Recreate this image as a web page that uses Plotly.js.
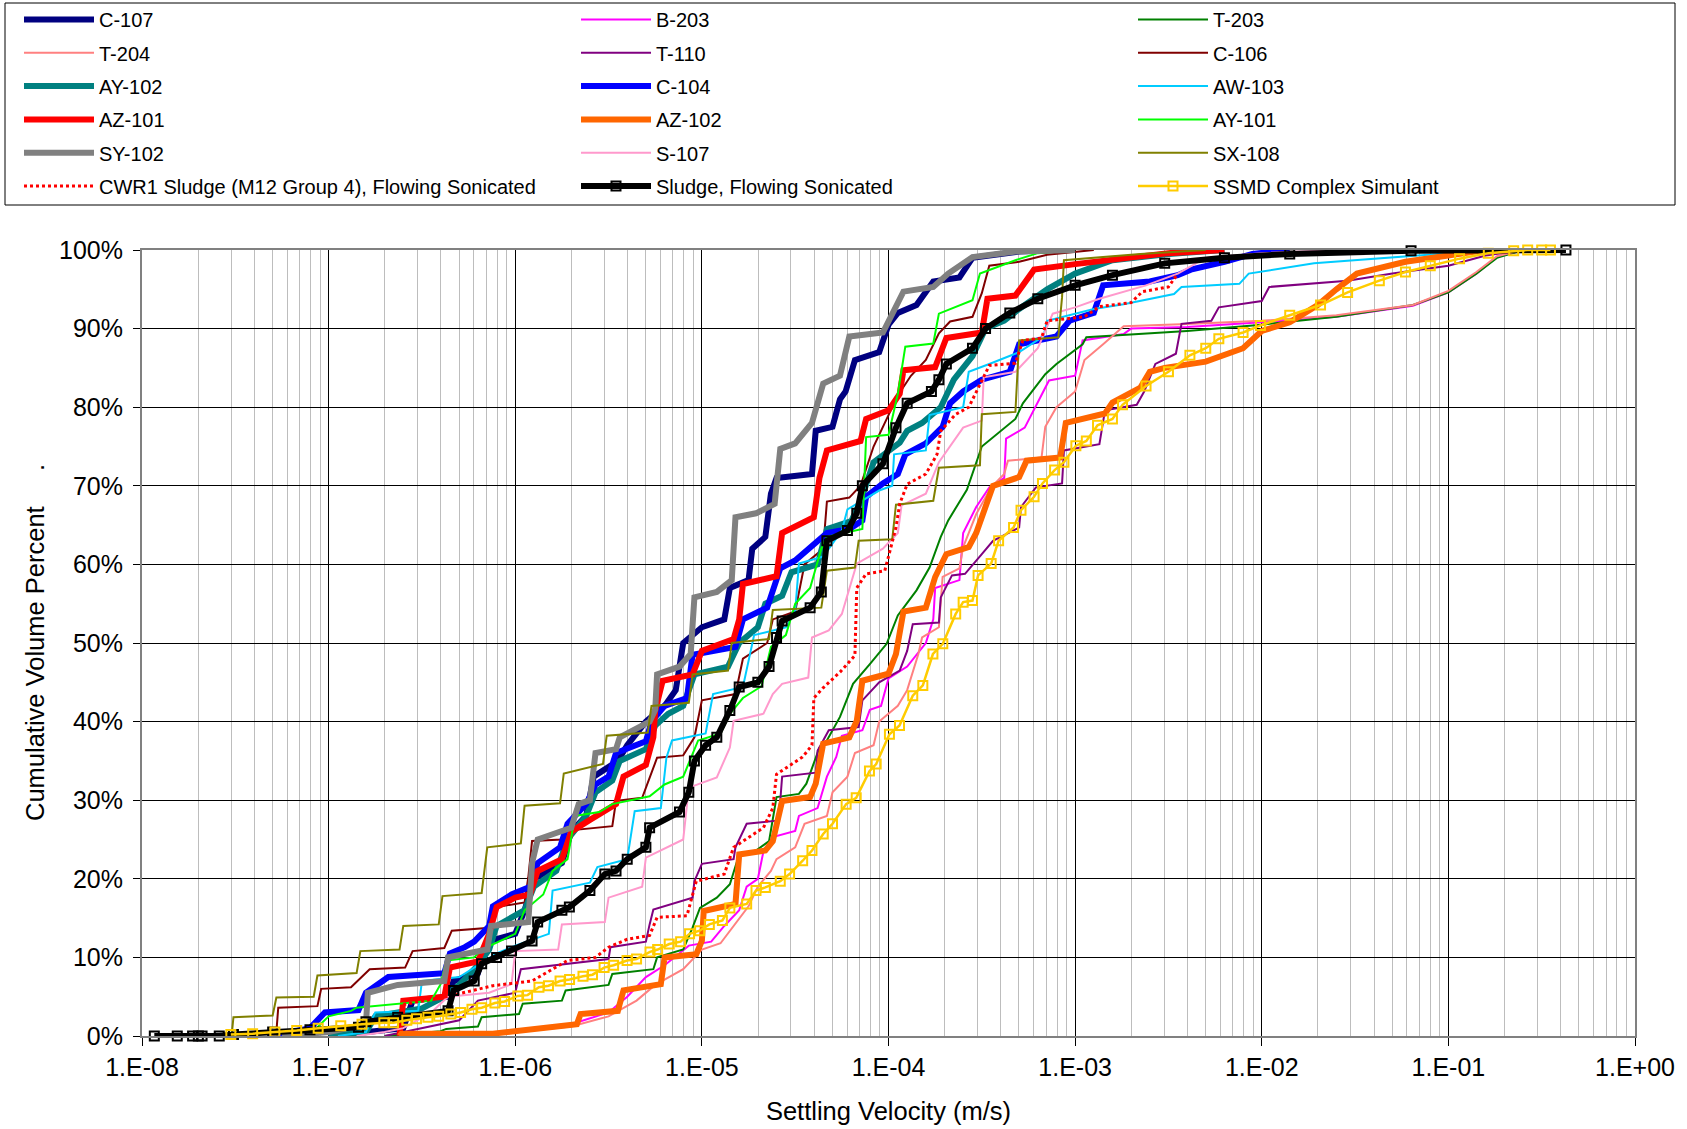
<!DOCTYPE html>
<html><head><meta charset="utf-8">
<script src="https://cdn.plot.ly/plotly-3.0.1.min.js"></script>
<style>html,body{margin:0;padding:0;background:#fff;}#chart{width:1687px;height:1129px;}</style>
</head><body><div id="chart"></div>
<script>
// Each series: [log10(settling velocity, m/s), cumulative volume percent]
const C107 = [[-7.0,0],[-6.7,0.8],[-6.6,1],[-6.55,4.5],[-6.36,5],[-6.33,7],[-6.2,8],[-6.15,12],[-6.0,13],[-5.95,16],[-5.9,20],[-5.75,22],[-5.7,26],[-5.62,28],[-5.58,33],[-5.45,35],[-5.4,37],[-5.3,40],[-5.2,42],[-5.14,44],[-5.1,50],[-5.0,52],[-4.88,53],[-4.85,57],[-4.75,58],[-4.73,62],[-4.66,63.5],[-4.63,69],[-4.6,71],[-4.41,71.5],[-4.39,77],[-4.30,77.5],[-4.26,81],[-4.23,82],[-4.18,86],[-4.05,87],[-4.0,90.5],[-3.95,92],[-3.85,93],[-3.76,96],[-3.62,96.5],[-3.55,99],[-3.3,99.8],[-3.1,100]];
const B203 = [[-6.3,0],[-6.0,0.7],[-5.7,1.5],[-5.5,3],[-5.4,5],[-5.3,7.5],[-5.2,9],[-5.07,11.5],[-4.95,12],[-4.88,14],[-4.8,16],[-4.76,19],[-4.7,20],[-4.67,23.5],[-4.62,25.3],[-4.5,26.1],[-4.48,28],[-4.38,29],[-4.33,33],[-4.28,35.5],[-4.25,38.2],[-4.14,38.9],[-4.1,41.5],[-4.04,42],[-4.0,45.5],[-3.9,47],[-3.8,50],[-3.76,53],[-3.75,57],[-3.62,58],[-3.6,64],[-3.53,67.3],[-3.46,69.8],[-3.38,71],[-3.37,76],[-3.27,77.4],[-3.14,83.4],[-3.0,84],[-2.96,88.5],[-2.74,89.3],[-2.7,90],[-2.4,90.2],[-2.0,90.8],[-1.6,91.5],[-1.19,92.9],[-1.0,94.6],[-0.85,97],[-0.74,99.1],[-0.6,100]];
const T203 = [[-6.7,0],[-6.4,0.6],[-6.37,0.9],[-6.2,1.2],[-6.18,2.4],[-5.98,2.8],[-5.96,4.1],[-5.75,4.5],[-5.73,5.8],[-5.5,6.5],[-5.48,7.9],[-5.26,8.5],[-5.24,10],[-5.1,11],[-5.05,13.8],[-5.01,16.3],[-4.92,17.6],[-4.85,19.3],[-4.8,23.1],[-4.71,23.6],[-4.64,24.8],[-4.6,30.4],[-4.48,30.8],[-4.44,32.1],[-4.37,36.7],[-4.33,37.6],[-4.26,40.6],[-4.19,44.8],[-4.1,47.3],[-4.01,49.9],[-3.95,53.5],[-3.85,56.7],[-3.78,59.6],[-3.72,63.5],[-3.68,65.6],[-3.58,69.5],[-3.5,75],[-3.4,77],[-3.32,78.5],[-3.28,80.5],[-3.16,84.2],[-3.1,85.5],[-2.96,88],[-2.94,88.9],[-2.74,89.2],[-2.4,89.7],[-2.0,90.5],[-1.6,91.5],[-1.19,93],[-1.0,94.6],[-0.85,97],[-0.74,99],[-0.6,100]];
const T204 = [[-6.3,0],[-6.0,0.5],[-5.7,1.2],[-5.5,2.5],[-5.35,4.5],[-5.25,6.5],[-5.1,8.5],[-5.0,11],[-4.9,11.8],[-4.83,14],[-4.75,16.5],[-4.7,19],[-4.63,21],[-4.6,22.5],[-4.5,24],[-4.45,27],[-4.33,28],[-4.3,31],[-4.22,33],[-4.18,36],[-4.08,37],[-4.05,40],[-3.95,42],[-3.9,44],[-3.84,48.6],[-3.82,50.7],[-3.73,52],[-3.71,58.4],[-3.62,59.5],[-3.6,62.2],[-3.53,66.4],[-3.45,69.8],[-3.38,71.5],[-3.36,73.2],[-3.18,73.6],[-3.16,77.5],[-3.1,80],[-3.0,82],[-2.95,86],[-2.85,88],[-2.74,90.3],[-2.4,90.6],[-2.0,91],[-1.6,91.7],[-1.19,93],[-1.0,94.8],[-0.85,97.2],[-0.74,99.2],[-0.6,100]];
const T110 = [[-6.7,0],[-6.5,1],[-6.3,2],[-6.2,4.5],[-6.0,5.5],[-5.97,8.5],[-5.7,9.2],[-5.5,9.8],[-5.49,11.3],[-5.3,12],[-5.28,14.2],[-5.26,16.1],[-5.05,17.6],[-5.04,19.7],[-5.0,21.9],[-4.83,22.5],[-4.82,24],[-4.76,27],[-4.6,27.4],[-4.58,29.9],[-4.57,33],[-4.39,33.5],[-4.38,36.3],[-4.32,38.9],[-4.16,39.3],[-4.14,42.7],[-4.05,45],[-3.94,46.5],[-3.9,49],[-3.87,52.4],[-3.73,52.6],[-3.72,55.8],[-3.66,58.6],[-3.59,58.8],[-3.5,61.3],[-3.44,63],[-3.3,64.7],[-3.29,67.3],[-3.21,69.8],[-3.07,70.3],[-3.06,74.5],[-2.87,75.3],[-2.84,79.6],[-2.67,80.3],[-2.63,82],[-2.57,85.5],[-2.46,86.8],[-2.43,90.6],[-2.27,91],[-2.23,92.7],[-2.0,93.5],[-1.96,95.3],[-1.54,96.1],[-1.3,97],[-1.0,98],[-0.8,99.3],[-0.6,100]];
const C106 = [[-7.32,0],[-7.28,0.5],[-7.27,3.6],[-7.06,3.8],[-7.04,6],[-6.88,6.2],[-6.78,8.5],[-6.59,8.7],[-6.55,10.8],[-6.38,11.2],[-6.34,13.4],[-6.12,13.8],[-6.1,16.4],[-5.95,17],[-5.93,20.2],[-5.91,24.8],[-5.75,25],[-5.73,26.1],[-5.48,26.7],[-5.46,29.9],[-5.32,30.3],[-5.24,35.4],[-5.1,35.7],[-5.04,38],[-5.0,42.7],[-4.82,43.5],[-4.78,48],[-4.65,50],[-4.62,53],[-4.5,54],[-4.45,60],[-4.35,62],[-4.33,68],[-4.21,68.5],[-4.15,70],[-4.08,75],[-4.0,79],[-3.95,81.5],[-3.88,84],[-3.8,86],[-3.73,89.4],[-3.67,90.9],[-3.55,91.5],[-3.5,94.5],[-3.46,98],[-3.3,98.5],[-3.15,99.4],[-2.9,100]];
const AY102 = [[-7.0,0],[-6.8,0.5],[-6.75,2.5],[-6.5,3.5],[-6.38,5],[-6.3,6.5],[-6.2,9],[-6.14,11],[-6.1,14],[-5.95,16],[-5.9,19],[-5.78,21],[-5.72,25],[-5.62,28],[-5.57,31],[-5.48,32.5],[-5.44,35],[-5.3,36.5],[-5.25,39.5],[-5.18,41],[-5.1,42],[-5.04,46],[-4.86,47],[-4.8,50],[-4.7,52],[-4.66,55],[-4.57,56],[-4.52,59],[-4.38,60],[-4.33,64.5],[-4.2,65.5],[-4.15,68],[-4.08,73],[-3.94,75.5],[-3.9,77],[-3.82,78],[-3.72,80],[-3.65,83.5],[-3.55,86.5],[-3.48,90],[-3.38,91],[-3.3,92.5],[-3.15,95],[-3.0,97],[-2.8,98.7],[-2.5,99.5],[-2.2,100]];
const C104 = [[-7.3,0],[-7.1,1],[-7.02,3],[-6.84,3.3],[-6.8,5.5],[-6.68,7.5],[-6.38,8],[-6.35,10.5],[-6.27,11.3],[-6.22,12],[-6.14,14],[-6.12,16.5],[-6.02,18],[-5.92,19],[-5.88,22],[-5.76,24],[-5.72,27],[-5.62,29.5],[-5.57,32],[-5.5,33],[-5.46,36],[-5.3,37.5],[-5.27,40],[-5.2,42],[-5.08,43],[-5.05,48.5],[-4.82,49.5],[-4.78,53],[-4.65,54.5],[-4.58,59.5],[-4.5,60.5],[-4.4,62.5],[-4.33,64],[-4.21,64.5],[-4.14,65.6],[-4.12,68.6],[-4.03,70.3],[-3.95,71.5],[-3.91,74],[-3.8,75.4],[-3.71,77.5],[-3.67,80.5],[-3.6,82],[-3.5,83.5],[-3.35,84.5],[-3.3,88],[-3.1,89],[-3.03,91],[-2.9,92],[-2.85,95.5],[-2.6,96],[-2.45,96.8],[-2.38,97.5],[-2.2,98.5],[-2.05,99.5],[-1.85,100]];
const AW103 = [[-6.95,0],[-6.8,0.5],[-6.75,3],[-6.52,3.2],[-6.5,7],[-6.3,7.5],[-6.2,9],[-6.1,10.5],[-6.0,11.5],[-5.82,13],[-5.8,18.5],[-5.6,19.5],[-5.56,21.5],[-5.4,22.5],[-5.36,28.6],[-5.22,29],[-5.19,35.4],[-5.16,37.6],[-4.98,38.5],[-4.94,43.5],[-4.78,44.4],[-4.72,51],[-4.55,52],[-4.5,54],[-4.48,60.1],[-4.35,61],[-4.25,64.3],[-4.22,67],[-4.15,68],[-4.05,69.4],[-3.98,70],[-3.97,74],[-3.8,74.5],[-3.78,79],[-3.6,80],[-3.57,84.5],[-3.46,85.5],[-3.3,87],[-3.17,89],[-3.15,91],[-2.9,92.5],[-2.74,93.1],[-2.47,94.4],[-2.43,95.3],[-2.12,95.7],[-2.07,97],[-1.72,98.3],[-1.45,98.8],[-1.0,99.6],[-0.7,100]];
const AZ101 = [[-6.62,0],[-6.6,4.5],[-6.38,5],[-6.35,8.7],[-6.2,9.5],[-6.14,13],[-6.1,16.4],[-6.0,17.6],[-5.92,18],[-5.88,21],[-5.75,22.5],[-5.7,26],[-5.6,27.5],[-5.46,29.5],[-5.42,33],[-5.3,34.5],[-5.26,38],[-5.25,41.4],[-5.21,45.2],[-5.05,46],[-5.0,49],[-4.83,50.5],[-4.8,53],[-4.78,57.5],[-4.6,58.5],[-4.57,64],[-4.4,66],[-4.37,71],[-4.33,74.5],[-4.15,75.7],[-4.12,78.5],[-4.0,79.6],[-3.94,81.7],[-3.92,84.7],[-3.75,85.1],[-3.69,88.8],[-3.5,89.5],[-3.47,93.8],[-3.32,94.2],[-3.22,97.5],[-3.0,98.2],[-2.7,99],[-2.5,99.6],[-2.2,100]];
const AZ102 = [[-6.62,0],[-6.61,0.3],[-6.12,0.3],[-6.0,0.6],[-5.9,0.9],[-5.67,1.5],[-5.65,2.8],[-5.45,3.2],[-5.44,4.1],[-5.42,5.8],[-5.22,6.6],[-5.2,10],[-5.03,10.4],[-5.0,12.1],[-4.99,15.9],[-4.82,16.8],[-4.8,23.1],[-4.66,23.6],[-4.62,24.8],[-4.57,29.9],[-4.42,30.4],[-4.39,32.1],[-4.35,37.2],[-4.21,38],[-4.17,40.1],[-4.14,45.2],[-4.0,46.1],[-3.96,48.6],[-3.92,54],[-3.8,54.5],[-3.75,58.4],[-3.69,61.3],[-3.57,62.2],[-3.53,64],[-3.47,68],[-3.44,70],[-3.3,71.1],[-3.26,73.2],[-3.08,73.6],[-3.05,78],[-2.84,79.2],[-2.8,80.6],[-2.65,82.5],[-2.6,84.5],[-2.52,85],[-2.3,85.8],[-2.1,87.5],[-2.0,89.7],[-1.85,90.8],[-1.7,93],[-1.6,95],[-1.49,97],[-1.23,98.5],[-1.0,99.4],[-0.8,100]];
const AY101 = [[-7.2,0],[-7.1,0.2],[-7.0,2.5],[-6.88,3.2],[-6.85,3.6],[-6.45,4.5],[-6.4,6.6],[-6.37,9.6],[-6.22,10],[-6.18,11],[-6.0,13],[-5.95,16],[-5.85,18],[-5.8,21],[-5.72,22.5],[-5.68,28],[-5.55,28.5],[-5.48,29.5],[-5.28,30.5],[-5.2,32],[-5.1,33],[-5.02,37.6],[-4.9,38.5],[-4.85,41],[-4.78,43],[-4.68,44.5],[-4.63,49.5],[-4.55,51],[-4.5,55],[-4.42,57],[-4.36,62],[-4.33,63.5],[-4.14,64.5],[-4.12,76.2],[-4.0,76.5],[-3.95,81.7],[-3.91,87.7],[-3.76,88.1],[-3.73,91.9],[-3.55,93.6],[-3.51,97],[-3.32,98.7],[-3.2,99.6],[-3.0,100]];
const SY102 = [[-7.25,0],[-7.0,0.5],[-6.8,1.5],[-6.79,5.5],[-6.63,6.5],[-6.38,7],[-6.36,10],[-6.15,11],[-6.13,14],[-5.93,14.5],[-5.91,22],[-5.88,25],[-5.7,26.5],[-5.66,29.5],[-5.6,30],[-5.57,36],[-5.46,36.5],[-5.44,38],[-5.28,40],[-5.25,41.5],[-5.24,46],[-5.12,47],[-5.06,48.6],[-5.04,55.8],[-4.92,56.5],[-4.84,58],[-4.82,66],[-4.71,66.5],[-4.61,67.7],[-4.58,74.7],[-4.5,75.4],[-4.41,78],[-4.35,83],[-4.26,84],[-4.21,89],[-4.03,89.5],[-3.92,94.7],[-3.76,95.3],[-3.68,97],[-3.55,99.1],[-3.32,99.8],[-3.0,100]];
const S107 = [[-6.85,0],[-6.7,0.5],[-6.6,1],[-6.45,3],[-6.36,5],[-6.14,5.5],[-6.02,6.6],[-6.0,10.8],[-5.77,11],[-5.75,14.2],[-5.52,14.5],[-5.5,17.6],[-5.32,19],[-5.3,22.7],[-5.1,25],[-5.07,31.6],[-4.92,32.9],[-4.85,36.7],[-4.83,40.1],[-4.67,41],[-4.62,43.5],[-4.57,44.8],[-4.43,45.6],[-4.41,50.7],[-4.32,51.6],[-4.25,53.7],[-4.17,60.1],[-4.03,62],[-3.95,64],[-3.93,67.5],[-3.8,69],[-3.73,73],[-3.6,77.4],[-3.5,78.3],[-3.49,83.8],[-3.32,84.5],[-3.2,87.5],[-3.12,91.9],[-3.0,92.7],[-2.87,93.8],[-2.62,95.5],[-2.45,97],[-2.3,99],[-2.0,99.6],[-1.6,100]];
const SX108 = [[-7.52,0],[-7.51,2.4],[-7.3,2.6],[-7.28,4.9],[-7.08,5],[-7.06,7.7],[-6.85,8],[-6.83,10.8],[-6.62,11],[-6.6,14],[-6.41,14.2],[-6.39,17.8],[-6.18,18.2],[-6.15,24],[-5.97,24.5],[-5.95,29.3],[-5.76,29.6],[-5.74,33.4],[-5.53,34.6],[-5.51,38.2],[-5.29,38.6],[-5.27,42],[-5.07,42.4],[-5.05,46],[-4.86,46.5],[-4.84,50],[-4.64,50.5],[-4.62,54.2],[-4.36,54.5],[-4.33,59.2],[-4.18,59.6],[-4.16,63],[-3.98,63.2],[-3.96,67.6],[-3.76,68.1],[-3.73,72.3],[-3.51,72.6],[-3.5,79.1],[-3.32,79.4],[-3.3,88.5],[-3.09,88.9],[-3.07,94],[-3.06,98.7],[-2.87,99.1],[-2.65,99.5],[-2.3,100]];
const CWR1 = [[-6.6,4],[-6.35,5.1],[-6.12,6.4],[-5.91,7],[-5.72,9.6],[-5.57,10],[-5.5,11.3],[-5.4,12.3],[-5.28,12.8],[-5.24,15.1],[-5.08,15.3],[-5.03,19.7],[-4.88,20.6],[-4.83,24],[-4.67,26.5],[-4.62,29],[-4.6,33.3],[-4.46,35.5],[-4.41,37],[-4.4,43],[-4.35,44.3],[-4.26,46.3],[-4.18,48.4],[-4.17,57],[-4.12,58.8],[-4.02,59.2],[-4.0,61],[-3.96,64.7],[-3.94,67.7],[-3.9,70.2],[-3.8,71.5],[-3.74,74],[-3.72,77],[-3.64,79.1],[-3.57,80],[-3.5,83.4],[-3.46,85.3],[-3.32,85.6],[-3.28,88.5],[-3.18,88.8],[-3.15,91],[-2.95,91.5],[-2.87,92.8],[-2.7,93.3],[-2.64,94.7],[-2.5,95.3],[-2.45,97]];
const SLUDGE = [[-7.934,0],[-7.811,0],[-7.729,0],[-7.698,0],[-7.678,0],[-7.586,0],[-7.51,0.2],[-7.3,0.5],[-7.1,0.8],[-6.84,1.1],[-6.8,1.8],[-6.63,2.4],[-6.36,3.2],[-6.33,5.8],[-6.22,7],[-6.18,9.2],[-6.1,10],[-6.02,10.8],[-5.91,12.1],[-5.88,14.5],[-5.75,16],[-5.71,16.4],[-5.6,18.5],[-5.52,20.6],[-5.46,21],[-5.4,22.5],[-5.3,24],[-5.28,26.5],[-5.12,28.5],[-5.07,31],[-5.04,35],[-4.98,37],[-4.92,38],[-4.85,41.4],[-4.8,44.4],[-4.7,45],[-4.64,47],[-4.6,50.7],[-4.57,52.8],[-4.42,54.5],[-4.36,56.5],[-4.33,63],[-4.22,64.3],[-4.17,66.5],[-4.14,70],[-4.03,72.8],[-3.96,77.4],[-3.9,80.5],[-3.77,82],[-3.73,83.5],[-3.69,85.5],[-3.55,87.5],[-3.48,90],[-3.35,92],[-3.2,93.8],[-3.0,95.5],[-2.8,96.8],[-2.52,98.3],[-2.2,99],[-1.85,99.5],[-1.2,99.9],[-0.37,100]];
const SSMD = [[-7.524,0.2],[-7.407,0.3],[-7.288,0.5],[-7.171,0.7],[-7.056,1.0],[-6.935,1.3],[-6.821,1.5],[-6.704,1.7],[-6.652,1.7],[-6.581,2.0],[-6.529,2.2],[-6.468,2.4],[-6.41,2.5],[-6.345,2.8],[-6.293,3.0],[-6.232,3.4],[-6.18,3.6],[-6.109,4.2],[-6.057,4.4],[-5.986,5.1],[-5.934,5.2],[-5.873,6.2],[-5.822,6.4],[-5.76,7.0],[-5.709,7.2],[-5.637,7.6],[-5.586,7.8],[-5.524,8.7],[-5.473,9.0],[-5.401,9.6],[-5.35,9.8],[-5.278,10.7],[-5.237,11.0],[-5.175,11.7],[-5.114,12.0],[-5.066,13.0],[-5.012,13.4],[-4.96,14.2],[-4.89,14.7],[-4.85,16.3],[-4.76,16.8],[-4.71,18.5],[-4.66,18.9],[-4.58,19.7],[-4.53,20.6],[-4.46,22.3],[-4.41,23.6],[-4.35,25.7],[-4.3,27.0],[-4.227,29.5],[-4.173,30.3],[-4.102,33.7],[-4.066,34.6],[-3.995,38.4],[-3.941,39.5],[-3.87,43.3],[-3.816,44.6],[-3.762,48.6],[-3.709,49.9],[-3.64,53.7],[-3.6,55.2],[-3.55,55.4],[-3.52,58.6],[-3.45,60.1],[-3.41,63],[-3.33,64.7],[-3.29,66.9],[-3.22,68.6],[-3.175,70.3],[-3.11,72.0],[-3.06,73.0],[-2.996,75.1],[-2.94,75.7],[-2.88,77.7],[-2.8,78.5],[-2.746,80.3],[-2.62,82.7],[-2.5,84.5],[-2.385,86.6],[-2.3,87.5],[-2.23,88.7],[-2.1,89.5],[-2.007,90.4],[-1.85,91.7],[-1.685,93.0],[-1.54,94.6],[-1.37,96.1],[-1.23,97.2],[-1.097,98.0],[-0.94,98.9],[-0.786,99.6],[-0.65,99.9],[-0.575,100],[-0.5,100],[-0.453,100]];

const seriesNames = ["C-107","B-203","T-203","T-204","T-110","C-106","AY-102","C-104","AW-103","AZ-101","AZ-102","AY-101","SY-102","S-107","SX-108","CWR1 Sludge (M12 Group 4), Flowing Sonicated","Sludge, Flowing Sonicated","SSMD Complex Simulant"];
const seriesData = [C107,B203,T203,T204,T110,C106,AY102,C104,AW103,AZ101,AZ102,AY101,SY102,S107,SX108,CWR1,SLUDGE,SSMD];
const xTickVals = [1e-8,1e-7,1e-6,1e-5,1e-4,1e-3,1e-2,1e-1,1];
const xTickText = ["1.E-08","1.E-07","1.E-06","1.E-05","1.E-04","1.E-03","1.E-02","1.E-01","1.E+00"];
const yTickVals = [0,10,20,30,40,50,60,70,80,90,100];
const yTickText = ["0%","10%","20%","30%","40%","50%","60%","70%","80%","90%","100%"];
const xTitle = 'Settling Velocity (m/s)';
const yTitle = 'Cumulative Volume Percent\u00a0\u00a0\u00a0\u00a0\u00a0.';

// styles
const styles = [
  {color:'#000080', width:6},
  {color:'#FF00FF', width:2},
  {color:'#008000', width:2},
  {color:'#FF8080', width:2},
  {color:'#800080', width:2},
  {color:'#800000', width:2},
  {color:'#008080', width:6},
  {color:'#0000FF', width:6},
  {color:'#00CCFF', width:2},
  {color:'#FF0000', width:6},
  {color:'#FF6600', width:6},
  {color:'#00FF00', width:2},
  {color:'#808080', width:6},
  {color:'#FF99CC', width:2},
  {color:'#808000', width:2},
  {color:'#FF0000', width:3, dash:'dot'},
  {color:'#000000', width:6, marker:{symbol:'square-open', size:9, color:'#000000', line:{width:2}}},
  {color:'#FFCC00', width:2.5, marker:{symbol:'square-open', size:9, color:'#FFCC00', line:{width:2}}}
];
const legendIds = ['legend','legend2','legend3'];

const traces = seriesData.map((pts, i) => {
  const st = styles[i];
  const t = {
    type:'scatter',
    x: pts.map(p => Math.pow(10, p[0])),
    y: pts.map(p => p[1]),
    name: seriesNames[i],
    mode: st.marker ? 'lines+markers' : 'lines',
    line: {color: st.color, width: st.width, dash: st.dash || 'solid'},
    legend: legendIds[i % 3],
    legendgroup: 'g' + i,
    cliponaxis: false,
    hoverinfo: 'skip'
  };
  if (st.marker) t.marker = st.marker;
  return t;
});

const minorVals = [];
for (let d = -8; d < 0; d++) { for (let k = 2; k <= 9; k++) minorVals.push(k * Math.pow(10, d)); }

const W = 1687, H = 1129;
const mL = 142, mR = 52, mT = 250, mB = 93;
const pw = W - mL - mR, ph = H - mT - mB;
function px2paperX(px){ return (px - mL) / pw; }
function px2paperY(py){ return (H - mB - py) / ph; }

const FONT = 'Liberation Sans, Arial, sans-serif';
const legBase = {
  orientation:'v', traceorder:'grouped', tracegroupgap: 4.3,
  font:{family:FONT, size:20, color:'#000'},
  bgcolor:'rgba(0,0,0,0)', borderwidth:0,
  xref:'container', yref:'container', xanchor:'left', yanchor:'top', itemwidth:70
};
const layout = {
  width: W, height: H,
  margin: {l:mL, r:mR, t:mT, b:mB, autoexpand:false},
  paper_bgcolor:'#fff', plot_bgcolor:'#fff',
  font: {family:FONT, color:'#000', size:20},
  showlegend: true,
  legend: Object.assign({}, legBase, {x: 19/W, y: 1}),
  legend2: Object.assign({}, legBase, {x: 576/W, y: 1}),
  legend3: Object.assign({}, legBase, {x: 1133/W, y: 1}),
  xaxis: {
    type:'log', range:[-8, 0], automargin:true,
    tickmode:'array', tickvals: xTickVals, ticktext: xTickText,
    ticks:'outside', ticklen:8, tickcolor:'#000',
    tickfont:{size:25, family:FONT},
    showgrid:true, gridcolor:'#000', gridwidth:1,
    minor:{tickmode:'array', tickvals: minorVals, showgrid:true, gridcolor:'#bdbdbd', gridwidth:1, ticks:''},
    showline:true, linecolor:'#808080', linewidth:2, mirror:true,
    zeroline:false,
    title:{text: xTitle, font:{size:25.5}, standoff:22}
  },
  yaxis: {
    range:[0, 100],
    tickmode:'array', tickvals: yTickVals, ticktext: yTickText,
    ticks:'outside', ticklen:7, tickcolor:'#000', ticklabelstandoff:5,
    tickfont:{size:25, family:FONT},
    showgrid:true, gridcolor:'#000', gridwidth:1,
    showline:true, linecolor:'#808080', linewidth:2, mirror:true,
    zeroline:false,
    title:{text:''}
  },
  annotations: [{
    text: yTitle, xref:'paper', yref:'paper',
    x: px2paperX(35), y: 0.5, xanchor:'center', yanchor:'middle',
    textangle: -90, showarrow:false,
    font:{family:FONT, size:25.5, color:'#000'}
  }],
  shapes: [{
    type:'rect', xref:'paper', yref:'paper',
    x0: px2paperX(5), x1: px2paperX(1675), y0: px2paperY(205), y1: px2paperY(3),
    line:{color:'#000', width:1}, fillcolor:'rgba(0,0,0,0)', layer:'above'
  }]
};

Plotly.newPlot('chart', traces, layout, {displayModeBar:false, staticPlot:true});
</script></body></html>
